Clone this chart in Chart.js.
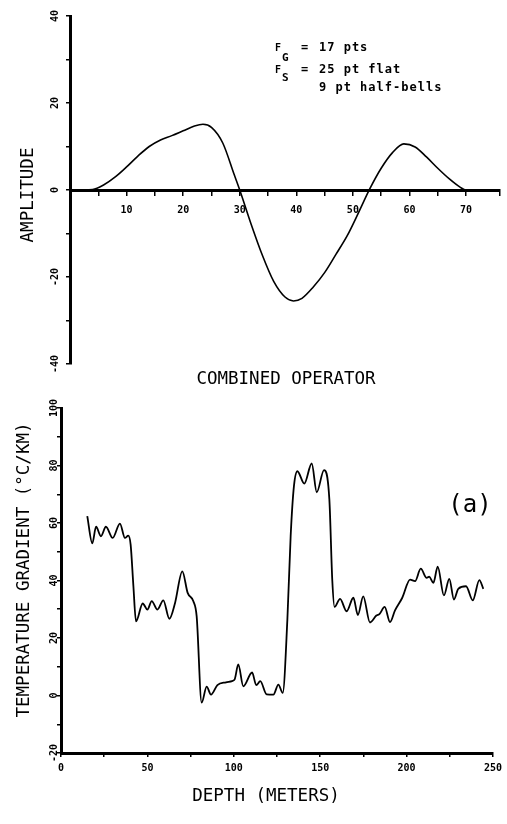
<!DOCTYPE html>
<html>
<head>
<meta charset="utf-8">
<script src="https://cdn.jsdelivr.net/npm/chart.js@4/dist/chart.umd.min.js"></script>
<style>
  html, body { margin: 0; padding: 0; background: #fff; }
  #wrap { position: relative; width: 507px; height: 824px; overflow: hidden; background: #fff; }
  canvas { position: absolute; left: 0; }
  #operator { top: 0; }
  #gradient { top: 395px; }
</style>
</head>
<body>
<div id="wrap">
  <canvas id="operator" width="507" height="395"></canvas>
  <canvas id="gradient" width="507" height="429"></canvas>
</div>
<script>
// Combined operator: amplitude against point index
const operatorIndex = [2, 4, 6, 8, 10, 12, 14, 16, 18, 20, 22, 23.5, 25, 27, 29, 30, 32, 34, 36, 38, 39.5, 41, 43, 45, 47, 49, 51, 53, 55, 57, 59, 61, 63, 65, 67, 69, 70, 71];
const operatorAmplitude = [0, 0.1, 1.2, 3.0, 5.3, 7.8, 10.0, 11.5, 12.5, 13.6, 14.7, 15.1, 14.4, 10.8, 3.6, 0, -7.8, -15.0, -21.0, -24.6, -25.5, -24.9, -22.3, -19.0, -14.8, -10.5, -5.2, 0.3, 5.0, 8.6, 10.6, 9.9, 7.6, 5.0, 2.6, 0.6, 0, 0];

// Temperature gradient log against depth
const depthMeters = [15.2, 18.1, 20.3, 23.1, 26.0, 29.9, 34.1, 37.0, 38.9, 40.3, 41.9, 43.4, 47.3, 50.0, 52.5, 55.8, 59.2, 62.7, 66.0, 70.2, 73.3, 76.6, 78.5, 81.4, 84.3, 86.8, 90.5, 95.5, 99.0, 100.5, 102.6, 105.5, 110.6, 113.0, 115.3, 119.0, 122.9, 125.8, 128.3, 131.0, 132.9, 134.8, 136.8, 140.8, 145.1, 148.0, 152.2, 155.3, 157.0, 158.3, 161.5, 165.3, 169.2, 171.8, 174.9, 178.8, 182.5, 184.4, 187.3, 190.4, 193.3, 197.5, 202.0, 204.9, 208.2, 211.6, 213.1, 215.5, 218.0, 221.6, 224.7, 227.4, 229.9, 234.4, 238.3, 242.1, 244.4];
const gradientCPerKm = [62.4, 52.9, 58.7, 55.4, 58.7, 54.8, 59.8, 54.8, 55.6, 52.5, 38.0, 25.8, 32.0, 29.9, 32.8, 29.9, 33.1, 26.7, 32.2, 43.2, 35.7, 32.8, 27.6, -2.5, 3.1, 0.3, 3.6, 4.6, 5.0, 5.6, 10.8, 3.2, 8.0, 3.6, 5.0, 0.4, 0.3, 3.8, 0.9, 26.4, 55.4, 72.8, 78.0, 73.7, 80.7, 70.7, 78.4, 68.2, 40.0, 30.8, 33.6, 29.3, 34.0, 28.0, 34.5, 25.4, 27.8, 28.4, 30.8, 25.5, 29.6, 34.0, 40.3, 39.8, 44.1, 40.9, 41.3, 39.2, 44.8, 34.8, 40.6, 33.4, 37.1, 38.0, 33.1, 40.1, 37.1];

// Labelled tick values
const operatorXTicks = [10, 20, 30, 40, 50, 60, 70];
const operatorYTicks = [40, 20, 0, -20, -40];
const depthTicks = [0, 50, 100, 150, 200, 250];
const gradientTicks = [100, 80, 60, 40, 20, 0, -20];

const ink = '#000';
const mono = '"DejaVu Sans Mono", "Liberation Mono", monospace';
const tickFont = 'bold 10px ' + mono;
const titleFont = '17.5px ' + mono;

function toPoints(xs, ys) {
  return xs.map((x, i) => ({ x: x, y: ys[i] }));
}

function rotatedText(ctx, text, x, y) {
  ctx.save();
  ctx.translate(x, y);
  ctx.rotate(-Math.PI / 2);
  ctx.fillText(text, 0, 0);
  ctx.restore();
}

function axisStyle(extra) {
  return Object.assign({
    type: 'linear',
    ticks: { display: false },
    grid: { drawOnChartArea: false, drawTicks: true, tickLength: 4, color: ink, lineWidth: 1.5 },
    border: { display: true, color: ink, width: 3 }
  }, extra);
}

const baseOptions = {
  responsive: false,
  animation: false,
  devicePixelRatio: 1,
  events: [],
  plugins: { legend: { display: false }, tooltip: { enabled: false } }
};

// Tick labels, axis titles and notes for the operator panel
const operatorText = {
  id: 'operatorText',
  afterDraw(chart) {
    const ctx = chart.ctx;
    const xs = chart.scales.x, ys = chart.scales.y;
    ctx.save();
    ctx.fillStyle = ink;
    ctx.textAlign = 'center';
    ctx.textBaseline = 'middle';
    ctx.font = tickFont;
    operatorXTicks.forEach(v => ctx.fillText(String(v), xs.getPixelForValue(v), 210));
    operatorYTicks.forEach(v => rotatedText(ctx, String(v), 55, ys.getPixelForValue(v)));

    ctx.font = titleFont;
    rotatedText(ctx, 'AMPLITUDE', 28, 195);
    ctx.fillText('COMBINED OPERATOR', 286, 379);

    // filter notes
    ctx.textAlign = 'left';
    ctx.textBaseline = 'alphabetic';
    ctx.font = 'bold 10px ' + mono;
    ctx.fillText('F', 275, 51);
    ctx.fillText('F', 275, 73);
    ctx.font = 'bold 11px ' + mono;
    ctx.fillText('G', 282, 61);
    ctx.fillText('S', 282, 81);
    ctx.textBaseline = 'middle';
    ctx.font = 'bold 12px ' + mono;
    ctx.letterSpacing = '1px';
    ctx.fillText('=', 301, 48);
    ctx.fillText('=', 301, 70);
    ctx.fillText('17 pts', 319, 48);
    ctx.fillText('25 pt flat', 319, 70);
    ctx.fillText('9 pt half-bells', 319, 88);
    ctx.restore();
  }
};

// Tick labels, axis titles and panel tag for the gradient panel
const gradientText = {
  id: 'gradientText',
  afterDraw(chart) {
    const ctx = chart.ctx;
    const xs = chart.scales.x, ys = chart.scales.y;
    ctx.save();
    ctx.fillStyle = ink;
    ctx.textAlign = 'center';
    ctx.textBaseline = 'middle';
    ctx.font = tickFont;
    depthTicks.forEach(v => ctx.fillText(String(v), xs.getPixelForValue(v), 373));
    gradientTicks.forEach(v => rotatedText(ctx, String(v), 54, ys.getPixelForValue(v)));

    ctx.font = titleFont;
    rotatedText(ctx, 'TEMPERATURE GRADIENT (°C/KM)', 24, 175);
    ctx.fillText('DEPTH (METERS)', 266, 401);

    ctx.font = '24px ' + mono;
    ctx.fillText('(a)', 470, 111);
    ctx.restore();
  }
};

new Chart(document.getElementById('operator'), {
  type: 'line',
  data: {
    datasets: [{
      data: toPoints(operatorIndex, operatorAmplitude),
      borderColor: ink,
      borderWidth: 1.6,
      pointRadius: 0,
      fill: false,
      cubicInterpolationMode: 'monotone'
    }]
  },
  options: Object.assign({}, baseOptions, {
    layout: { padding: { left: 0, top: 16, right: 7, bottom: 31 } },
    scales: {
      x: axisStyle({ min: 0, max: 76, position: { y: 0 }, ticks: { display: false, stepSize: 5 }, afterFit: s => { s.height = 0; } }),
      y: axisStyle({ min: -40, max: 40, ticks: { display: false, stepSize: 10 }, afterFit: s => { s.width = 70; } })
    }
  }),
  plugins: [operatorText]
});

new Chart(document.getElementById('gradient'), {
  type: 'line',
  data: {
    datasets: [{
      data: toPoints(depthMeters, gradientCPerKm),
      borderColor: ink,
      borderWidth: 1.8,
      pointRadius: 0,
      fill: false,
      cubicInterpolationMode: 'monotone'
    }]
  },
  options: Object.assign({}, baseOptions, {
    layout: { padding: { left: 0, top: 13, right: 14, bottom: 0 } },
    scales: {
      x: axisStyle({ min: 0, max: 250, position: 'bottom', ticks: { display: false, stepSize: 25 }, afterFit: s => { s.height = 71; } }),
      y: axisStyle({ min: -20, max: 100, ticks: { display: false, stepSize: 10 }, afterFit: s => { s.width = 61; } })
    }
  }),
  plugins: [gradientText]
});
</script>
</body>
</html>
